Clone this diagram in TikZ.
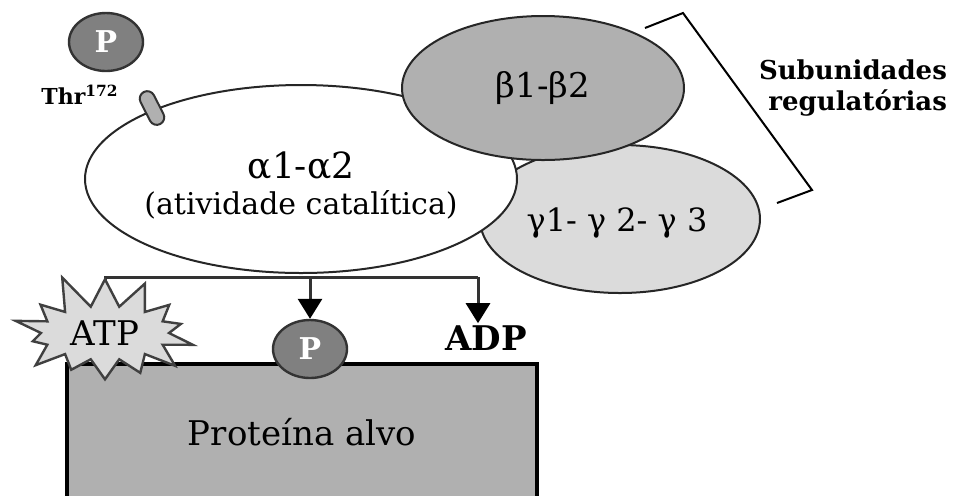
\documentclass[tikz,border=0pt]{standalone}
\usepackage{fontspec}
\setmainfont{DejaVu Serif}
\usetikzlibrary{positioning,arrows.meta,shapes.geometric,shapes.symbols,shapes.misc}

\begin{document}
\begin{tikzpicture}[x=0.5pt,y=-0.5pt,
  outl/.style={draw=black!85,line width=1pt},
  sub/.style={ellipse,outl,inner sep=0pt},
  txt/.style={font=\fontsize{#1}{#1}\selectfont},
  txtb/.style={font=\fontsize{#1}{#1}\selectfont\bfseries},
  phos/.style={ellipse,draw=black!80,line width=1.2pt,fill=black!50,text=white,
    txtb=15,minimum width=37pt,minimum height=29pt,inner sep=0pt},
  link/.style={draw=black!80,line width=1.5pt},
  hit/.style={link,-{Triangle[width=12pt,length=10pt,color=black]}}]

  \useasboundingbox (0,0) rectangle (955,495);

  % proteina alvo
  \node[rectangle,draw=black,line width=1.6pt,fill=black!31,minimum width=235pt,
    minimum height=68pt,txt=17] (alvo) at (302,432) {Proteína alvo};

  % subunidades
  \node[sub,fill=black!14,minimum width=140pt,minimum height=74pt] (gam) at (620,219) {};
  \node[sub,fill=white,minimum width=216pt,minimum height=94pt] (alf) at (301,179) {};
  \node[sub,fill=black!31,minimum width=141pt,minimum height=72pt,txt=17] (bet) at (543,88) {β1-β2};
  \node[txt=16] (gamtxt) at (617,223) {γ1- γ 2- γ 3};
  \node[txt=18] (alfname) at (301,166) {α1-α2};
  \node[txt=15] (alfrole) at (301,205) {(atividade catalítica)};

  % thr172
  \node[rounded rectangle,draw=black!80,line width=1pt,fill=black!31,minimum width=18pt,
    minimum height=7.5pt,inner sep=0pt,rotate=-63] (thr) at (152,108) {};
  \node[phos] (pthr) at (106,42) {P};
  \node[txtb=11] (thrlbl) at (80,95) {Thr\textsuperscript{172}};

  % reacao
  \coordinate (bus) at (478,277);
  \node[txtb=17,inner sep=1pt] (adp) at (486,338) {ADP};
  \node[phos] (pout) at (310,349) {P};
  \draw[link] (105,333) |- (bus);
  \draw[hit] (bus) -- (bus |- adp.north);
  \draw[hit] (pout.north |- bus) -- (pout.north);
  \node[starburst,starburst points=14,starburst point height=18pt,random starburst=11,
    draw=black!75,line width=1.2pt,fill=black!14,minimum width=100pt,minimum height=58pt,
    txt=17] (atp) at (105,333) {ATP};

  % colchete
  \coordinate (brA) at (645,28);
  \coordinate (brB) at (683,13);
  \coordinate (brC) at (812,190);
  \coordinate (brD) at (777,203);
  \draw[line width=1pt] (brA) -- (brB) -- (brC) -- (brD);
  \node[txtb=13,align=right,anchor=east] (reg) at (954,88)
    {Subunidades\\[3pt]regulatórias};

\end{tikzpicture}
\end{document}
